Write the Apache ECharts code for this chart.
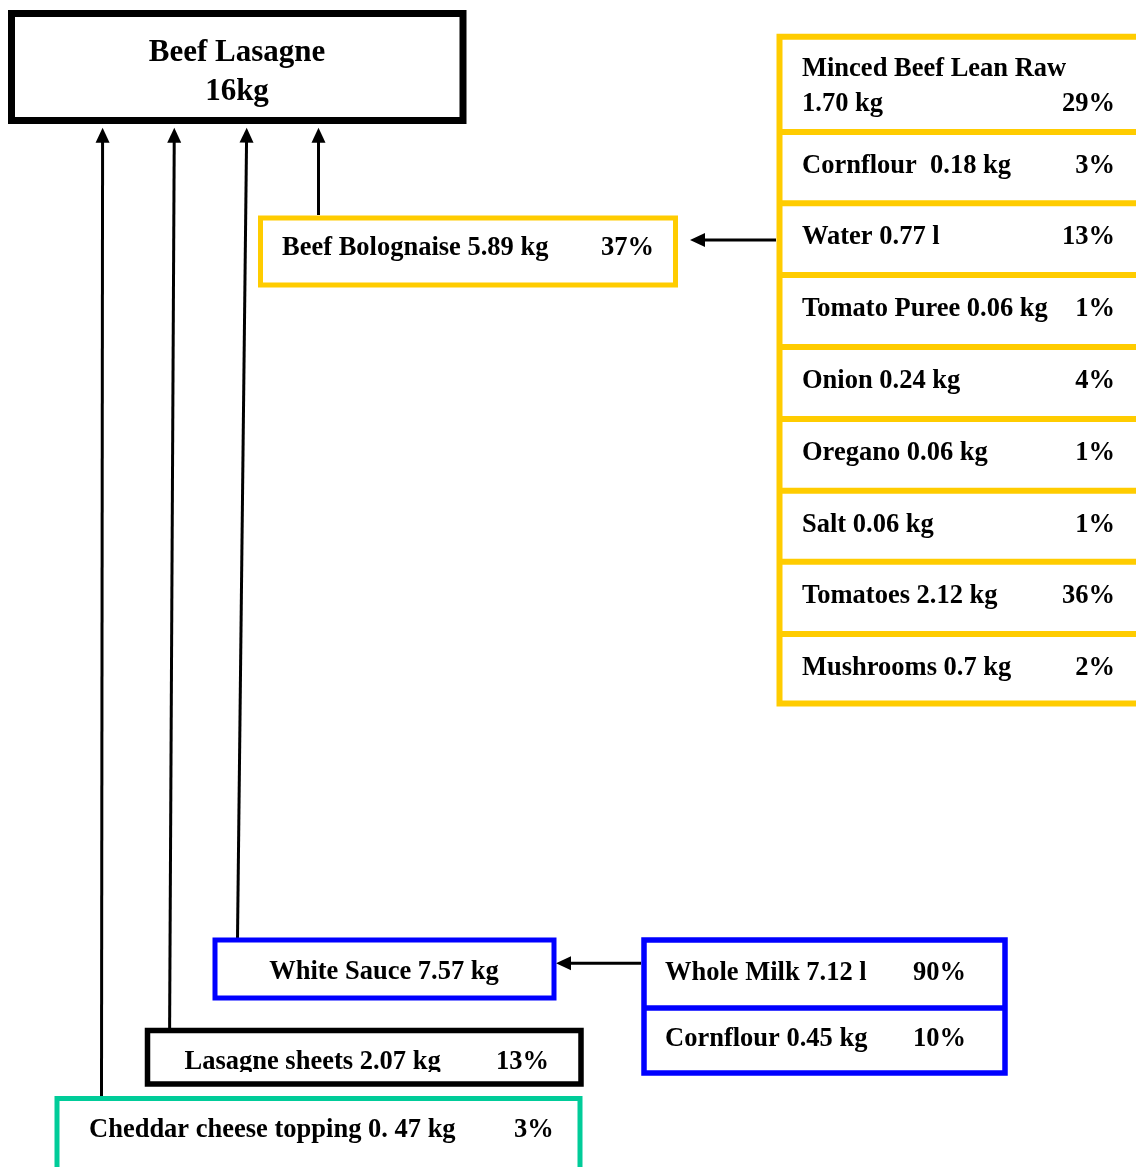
<!DOCTYPE html>
<html>
<head>
<meta charset="utf-8">
<script src="https://cdn.jsdelivr.net/npm/echarts@6/dist/echarts.min.js"></script>
<style>
html,body{margin:0;padding:0;background:#fff;}
#main{width:1136px;height:1167px;}
</style>
</head>
<body>
<div id="main"></div>
<script>
// ---------- DATA ----------
const productName = 'Beef Lasagne';
const productWeight = '16kg';

const componentNames = ['Beef Bolognaise', 'White Sauce', 'Lasagne sheets', 'Cheddar cheese topping'];
const componentQty   = ['5.89 kg', '7.57 kg', '2.07 kg', '0. 47 kg'];
const componentPct   = ['37%', '', '13%', '3%'];

const bologNames = ['Minced Beef Lean Raw', 'Cornflour ', 'Water', 'Tomato Puree', 'Onion', 'Oregano', 'Salt', 'Tomatoes', 'Mushrooms'];
const bologQty   = ['1.70 kg', '0.18 kg', '0.77 l', '0.06 kg', '0.24 kg', '0.06 kg', '0.06 kg', '2.12 kg', '0.7 kg'];
const bologPct   = ['29%', '3%', '13%', '1%', '4%', '1%', '1%', '36%', '2%'];

const sauceNames = ['Whole Milk', 'Cornflour'];
const sauceQty   = ['7.12 l', '0.45 kg'];
const saucePct   = ['90%', '10%'];

// ---------- LAYOUT / STYLE ----------
const W = 1136, H = 1167;
const YELLOW = '#FFCC00', BLUE = '#0000FF', TEAL = '#00CC99', BLACK = '#000000';
const FONT = "'Liberation Serif', 'Times New Roman', serif";
const FS = 26.5, FS_TITLE = 31;
const TY = 2; // vertical text nudge

const L = {
  title: {x0: 11.5, y0: 13.5, x1: 463, y1: 120.5, lw: 7, color: BLACK, cx: 237, y1t: 51, y2t: 90},
  comps: [
    {x0: 260.5, y0: 218, x1: 675.5, y1: 285, lw: 5, color: YELLOW, tx: 282, ty: 246.5, px: 601},
    {x0: 215, y0: 940, x1: 554, y1: 998, lw: 5, color: BLUE, tx: 384, ty: 970.5, center: true},
    {x0: 147.5, y0: 1030.5, x1: 581, y1: 1084, lw: 5.5, color: BLACK, tx: 184.5, ty: 1060.5, px: 496, clipY: 1072},
    {x0: 57, y0: 1098.5, x1: 580, y1: 1210, lw: 5, color: TEAL, tx: 89, ty: 1128.5, px: 514}
  ],
  bolog: {x0: 779.5, x1: 1150, lines: [36.7, 132, 203.3, 275, 347, 419, 490.7, 561.7, 634, 703.5], lw: 6, color: YELLOW,
          tx: 802, pr: 1115, off: 32, row1a: 67, row1b: 102.5},
  sauce: {x0: 644, x1: 1005, lines: [940, 1008, 1073], lw: 5.5, color: BLUE, tx: 665, pr: 966, ty: [971, 1037.5]},
  arrows: [
    [101.5, 1096, 102.6, 127.7],
    [169.6, 1028, 174.3, 127.7],
    [237.5, 938, 246.7, 127.7],
    [318.5, 215, 318.5, 127.7],
    [776, 240, 690, 240],
    [641, 963.3, 556, 963.3]
  ],
  arrowLw: 3, headLen: 15, headW: 14
};

// ---------- BUILD ELEMENTS ----------
const boxes = [];   // rectangles
const rules = [];   // divider lines
const texts = [];   // text items

boxes.push(L.title);
texts.push({x: L.title.cx, y: L.title.y1t, text: productName, align: 'center', size: FS_TITLE});
texts.push({x: L.title.cx, y: L.title.y2t, text: productWeight, align: 'center', size: FS_TITLE});

componentNames.forEach((n, i) => {
  const c = L.comps[i];
  boxes.push(c);
  texts.push({x: c.tx, y: c.ty, text: n + ' ' + componentQty[i], align: c.center ? 'center' : 'left', size: FS, clipY: c.clipY});
  if (componentPct[i]) texts.push({x: c.px, y: c.ty, text: componentPct[i], align: 'left', size: FS});
});

const B = L.bolog;
boxes.push({x0: B.x0, y0: B.lines[0], x1: B.x1, y1: B.lines[B.lines.length - 1], lw: B.lw, color: B.color});
B.lines.slice(1, -1).forEach(y => rules.push({x0: B.x0, x1: B.x1, y: y, lw: B.lw, color: B.color}));
bologNames.forEach((n, i) => {
  if (i === 0) {
    texts.push({x: B.tx, y: B.row1a, text: n, align: 'left', size: FS});
    texts.push({x: B.tx, y: B.row1b, text: bologQty[i], align: 'left', size: FS});
    texts.push({x: B.pr, y: B.row1b, text: bologPct[i], align: 'right', size: FS});
  } else {
    const y = B.lines[i] + B.off;
    texts.push({x: B.tx, y: y, text: n + ' ' + bologQty[i], align: 'left', size: FS});
    texts.push({x: B.pr, y: y, text: bologPct[i], align: 'right', size: FS});
  }
});

const S = L.sauce;
boxes.push({x0: S.x0, y0: S.lines[0], x1: S.x1, y1: S.lines[S.lines.length - 1], lw: S.lw, color: S.color});
S.lines.slice(1, -1).forEach(y => rules.push({x0: S.x0, x1: S.x1, y: y, lw: S.lw, color: S.color}));
sauceNames.forEach((n, i) => {
  texts.push({x: S.tx, y: S.ty[i], text: n + ' ' + sauceQty[i], align: 'left', size: FS});
  texts.push({x: S.pr, y: S.ty[i], text: saucePct[i], align: 'right', size: FS});
});

// ---------- CHART ----------
const chart = echarts.init(document.getElementById('main'), null, {renderer: 'canvas'});

function rectItem(params, api) {
  const b = boxes[params.dataIndex];
  const p0 = api.coord([b.x0, b.y0]), p1 = api.coord([b.x1, b.y1]);
  return {
    type: 'rect',
    shape: {x: Math.min(p0[0], p1[0]), y: Math.min(p0[1], p1[1]), width: Math.abs(p1[0] - p0[0]), height: Math.abs(p1[1] - p0[1])},
    style: {fill: 'none', stroke: b.color, lineWidth: b.lw}
  };
}
function ruleItem(params, api) {
  const r = rules[params.dataIndex];
  const p0 = api.coord([r.x0, r.y]), p1 = api.coord([r.x1, r.y]);
  return {type: 'line', shape: {x1: p0[0], y1: p0[1], x2: p1[0], y2: p1[1]}, style: {stroke: r.color, lineWidth: r.lw}};
}
function arrowItem(params, api) {
  const a = L.arrows[params.dataIndex];
  const s = api.coord([a[0], a[1]]), e = api.coord([a[2], a[3]]);
  const dx = e[0] - s[0], dy = e[1] - s[1], len = Math.sqrt(dx * dx + dy * dy);
  const ux = dx / len, uy = dy / len, px = -uy, py = ux;
  const bx = e[0] - ux * L.headLen, by = e[1] - uy * L.headLen;
  return {
    type: 'group',
    children: [
      {type: 'line', shape: {x1: s[0], y1: s[1], x2: bx + ux * 2, y2: by + uy * 2}, style: {stroke: BLACK, lineWidth: L.arrowLw}},
      {type: 'polygon', shape: {points: [[e[0], e[1]], [bx + px * L.headW / 2, by + py * L.headW / 2], [bx - px * L.headW / 2, by - py * L.headW / 2]]}, style: {fill: BLACK}}
    ]
  };
}
function textItem(params, api) {
  const t = texts[params.dataIndex];
  const p = api.coord([t.x, t.y + TY]);
  const el = {
    type: 'text', x: p[0], y: p[1],
    style: {text: t.text, fill: '#000', font: 'bold ' + t.size + 'px ' + FONT, align: t.align, verticalAlign: 'middle'}
  };
  if (t.clipY) {
    const c = api.coord([0, t.clipY]);
    return {type: 'group', clipPath: {type: 'rect', shape: {x: 0, y: 0, width: W, height: c[1]}}, children: [el]};
  }
  return el;
}

const option = {
  animation: false,
  backgroundColor: '#ffffff',
  grid: {left: 0, right: 0, top: 0, bottom: 0},
  xAxis: {type: 'value', min: 0, max: W, show: false},
  yAxis: {type: 'value', min: 0, max: H, inverse: true, show: false},
  series: [
    {type: 'custom', coordinateSystem: 'cartesian2d', clip: false, renderItem: arrowItem,
     data: L.arrows.map(a => [a[2], a[3]])},
    {type: 'custom', coordinateSystem: 'cartesian2d', clip: false, renderItem: ruleItem,
     data: rules.map(r => [r.x0, r.y])},
    {type: 'custom', coordinateSystem: 'cartesian2d', clip: false, renderItem: rectItem,
     data: boxes.map(b => [b.x0, b.y0])},
    {type: 'custom', coordinateSystem: 'cartesian2d', clip: false, renderItem: textItem,
     data: texts.map(t => [t.x, t.y])}
  ]
};
chart.setOption(option);
</script>
</body>
</html>
